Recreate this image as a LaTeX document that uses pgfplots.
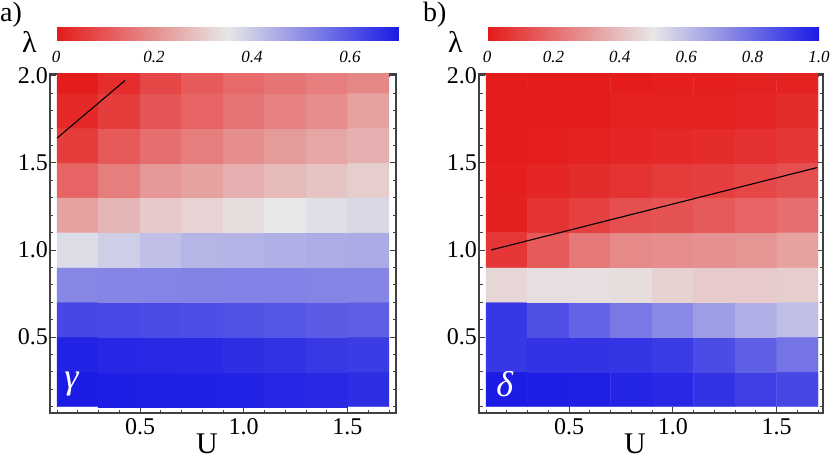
\documentclass[border=0pt]{standalone}
\usepackage{fontspec}
\setmainfont{Liberation Serif}
\usepackage{pgfplots}
\pgfplotsset{compat=1.18}

\pgfplotsset{
  heat/.style={
    scale only axis, height=339pt,
    ymin=0.064, ymax=2.01,
    axis line style={draw=black!75, line width=1.1pt},
    tick style={black!75, line width=0.8pt},
    tick align=inside, xtick pos=both, ytick pos=both,
    major tick length=6pt, minor tick length=3.5pt,
    xtick={0.5,1,1.5}, xticklabels={0.5,1.0,1.5},
    ytick={0.5,1,1.5,2}, yticklabels={0.5,1.0,1.5,2.0},
    minor xtick={0.1,0.2,0.3,0.4,0.6,0.7,0.8,0.9,1.1,1.2,1.3,1.4,1.6,1.7},
    minor ytick={0.1,0.2,0.3,0.4,0.6,0.7,0.8,0.9,1.1,1.2,1.3,1.4,1.6,1.7,1.8,1.9},
    /pgf/number format/assume math mode=true,
    xticklabel style={font=\fontsize{24}{24}\selectfont, yshift=-2pt},
    yticklabel style={font=\fontsize{24}{24}\selectfont, inner xsep=2pt},
    colormap={rb}{rgb255=(229,26,26) rgb255=(231,231,231) rgb255=(26,26,229)},
    point meta=explicit,
  },
  bar/.style={
    at={(parent axis.north west)}, anchor=south west,
    height=13pt, scale only axis,
    axis line style={draw=none},
    major tick length=0pt, minor tick length=0pt,
    minor xtick={},
    xticklabel style={font=\fontsize{17}{17}\selectfont\itshape, yshift=-7pt},
  },
}

\begin{document}
\begin{tikzpicture}
\useasboundingbox (0,0) rectangle (831pt,459pt);

% ---- a) gamma ----
\begin{axis}[heat,
  at={(50pt,46pt)}, anchor=south west, width=346pt,
  xmin=0.066, xmax=1.734,
  point meta min=0, point meta max=0.7,
  colorbar horizontal,
  colorbar style={bar, xshift=6pt, yshift=42pt, width=343pt,
    xtick={0,0.2,0.4,0.6}, xticklabels={0,0.2,0.4,0.6}},
]
\addplot[matrix plot*, mesh/cols=8] coordinates {
(0.2,0.2)[0.697] (0.4,0.2)[0.693] (0.6,0.2)[0.691] (0.8,0.2)[0.688] (1.0,0.2)[0.685] (1.2,0.2)[0.679] (1.4,0.2)[0.676] (1.6,0.2)[0.667]
(0.2,0.4)[0.685] (0.4,0.4)[0.679] (0.6,0.4)[0.676] (0.8,0.4)[0.673] (1.0,0.4)[0.666] (1.2,0.4)[0.659] (1.4,0.4)[0.650] (1.6,0.4)[0.642]
(0.2,0.6)[0.624] (0.4,0.6)[0.621] (0.6,0.6)[0.616] (0.8,0.6)[0.611] (1.0,0.6)[0.607] (1.2,0.6)[0.599] (1.4,0.6)[0.590] (1.6,0.6)[0.582]
(0.2,0.8)[0.515] (0.4,0.8)[0.518] (0.6,0.8)[0.520] (0.8,0.8)[0.521] (1.0,0.8)[0.522] (1.2,0.8)[0.522] (1.4,0.8)[0.520] (1.6,0.8)[0.518]
(0.2,1.0)[0.367] (0.4,1.0)[0.393] (0.6,1.0)[0.419] (0.8,1.0)[0.436] (1.0,1.0)[0.439] (1.2,1.0)[0.444] (1.4,1.0)[0.449] (1.6,1.0)[0.453]
(0.2,1.2)[0.230] (0.4,1.2)[0.264] (0.6,1.2)[0.299] (0.8,1.2)[0.316] (1.0,1.2)[0.333] (1.2,1.2)[0.350] (1.4,1.2)[0.364] (1.6,1.2)[0.376]
(0.2,1.4)[0.127] (0.4,1.4)[0.170] (0.6,1.4)[0.213] (0.8,1.4)[0.230] (1.0,1.4)[0.256] (1.2,1.4)[0.273] (1.4,1.4)[0.290] (1.6,1.4)[0.307]
(0.2,1.6)[0.058] (0.4,1.6)[0.110] (0.6,1.6)[0.144] (0.8,1.6)[0.170] (1.0,1.6)[0.196] (1.2,1.6)[0.221] (1.4,1.6)[0.239] (1.6,1.6)[0.256]
(0.2,1.8)[0.024] (0.4,1.8)[0.058] (0.6,1.8)[0.101] (0.8,1.8)[0.127] (1.0,1.8)[0.153] (1.2,1.8)[0.178] (1.4,1.8)[0.196] (1.6,1.8)[0.230]
(0.2,2.0)[0.003] (0.4,2.0)[0.033] (0.6,2.0)[0.075] (0.8,2.0)[0.110] (1.0,2.0)[0.136] (1.2,2.0)[0.153] (1.4,2.0)[0.170] (1.6,2.0)[0.187]
};
\addplot[black, line width=1.1pt, point meta=none] coordinates {(0.1,1.642) (0.428,1.973)};
\node[white, font=\fontsize{36}{36}\selectfont\itshape] at (axis cs:0.17,0.23) {γ};
\end{axis}

% ---- b) delta ----
\begin{axis}[heat,
  at={(479pt,46pt)}, anchor=south west, width=344pt,
  xmin=0.066, xmax=1.724,
  point meta min=0, point meta max=1,
  colorbar horizontal,
  colorbar style={bar, xshift=8pt, yshift=42pt, width=332pt,
    xtick={0,0.2,0.4,0.6,0.8,1}, xticklabels={0,0.2,0.4,0.6,0.8,1.0}},
]
\addplot[matrix plot*, mesh/cols=8] coordinates {
(0.2,0.2)[0.995] (0.4,0.2)[0.990] (0.6,0.2)[0.985] (0.8,0.2)[0.975] (1.0,0.2)[0.965] (1.2,0.2)[0.940] (1.4,0.2)[0.910] (1.6,0.2)[0.890]
(0.2,0.4)[0.930] (0.4,0.4)[0.940] (0.6,0.4)[0.940] (0.8,0.4)[0.935] (1.0,0.4)[0.920] (1.2,0.4)[0.880] (1.4,0.4)[0.830] (1.6,0.4)[0.780]
(0.2,0.6)[0.930] (0.4,0.6)[0.870] (0.6,0.6)[0.820] (0.8,0.6)[0.770] (1.0,0.6)[0.730] (1.2,0.6)[0.680] (1.4,0.6)[0.635] (1.6,0.6)[0.600]
(0.2,0.8)[0.460] (0.4,0.8)[0.480] (0.6,0.8)[0.480] (0.8,0.8)[0.475] (1.0,0.8)[0.450] (1.2,0.8)[0.430] (1.4,0.8)[0.430] (1.6,0.8)[0.440]
(0.2,1.0)[0.070] (0.4,1.0)[0.155] (0.6,1.0)[0.230] (0.8,1.0)[0.270] (1.0,1.0)[0.280] (1.2,1.0)[0.290] (1.4,1.0)[0.300] (1.6,1.0)[0.330]
(0.2,1.2)[0.015] (0.4,1.2)[0.060] (0.6,1.2)[0.095] (0.8,1.2)[0.130] (1.0,1.2)[0.140] (1.2,1.2)[0.155] (1.4,1.2)[0.180] (1.6,1.2)[0.205]
(0.2,1.4)[0.010] (0.4,1.4)[0.030] (0.6,1.4)[0.045] (0.8,1.4)[0.060] (1.0,1.4)[0.080] (1.2,1.4)[0.090] (1.4,1.4)[0.110] (1.6,1.4)[0.130]
(0.2,1.6)[0.005] (0.4,1.6)[0.010] (0.6,1.6)[0.020] (0.8,1.6)[0.030] (1.0,1.6)[0.035] (1.2,1.6)[0.045] (1.4,1.6)[0.055] (1.6,1.6)[0.070]
(0.2,1.8)[0.005] (0.4,1.8)[0.005] (0.6,1.8)[0.005] (0.8,1.8)[0.020] (1.0,1.8)[0.020] (1.2,1.8)[0.020] (1.4,1.8)[0.030] (1.6,1.8)[0.045]
(0.2,2.0)[0.005] (0.4,2.0)[0.005] (0.6,2.0)[0.005] (0.8,2.0)[0.005] (1.0,2.0)[0.010] (1.2,2.0)[0.010] (1.4,2.0)[0.020] (1.6,2.0)[0.020]
};
\addplot[black, line width=1.1pt, point meta=none] coordinates {(0.125,1.0) (1.696,1.473)};
\node[white, font=\fontsize{36}{36}\selectfont\itshape] at (axis cs:0.19,0.23) {δ};
\end{axis}

% panel letters and axis names
\node[anchor=base west, inner sep=0pt, font=\fontsize{28}{28}\selectfont] at (0pt,437pt) {a)};
\node[anchor=base west, inner sep=0pt, font=\fontsize{28}{28}\selectfont] at (423pt,437pt) {b)};
\node[anchor=base, inner sep=0pt, font=\fontsize{30}{30}\selectfont] at (29.5pt,406pt) {λ};
\node[anchor=base, inner sep=0pt, font=\fontsize{30}{30}\selectfont] at (455.5pt,406pt) {λ};
\node[anchor=base, inner sep=0pt, font=\fontsize{30}{30}\selectfont] at (207pt,6pt) {U};
\node[anchor=base, inner sep=0pt, font=\fontsize{30}{30}\selectfont] at (635pt,6pt) {U};
\end{tikzpicture}
\end{document}
